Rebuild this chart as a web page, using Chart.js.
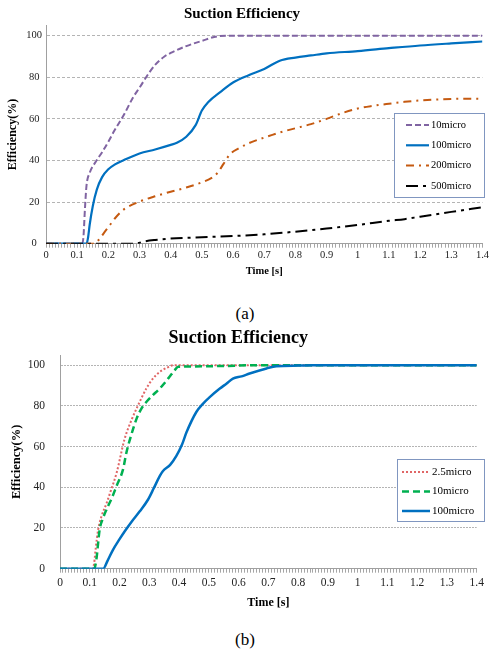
<!DOCTYPE html>
<html><head><meta charset="utf-8">
<script src="https://cdn.jsdelivr.net/npm/chart.js@4.4.0/dist/chart.umd.min.js"></script>
<style>
html,body{margin:0;padding:0;background:#fff;width:490px;height:651px;overflow:hidden;}
#ca{position:absolute;left:0;top:0;}
#cb{position:absolute;left:0;top:322px;}
.cap{position:absolute;left:0;width:490px;text-align:center;font-family:"Liberation Serif",serif;font-size:17px;line-height:20px;color:#000;}
</style></head><body>
<canvas id="ca" width="490" height="290"></canvas>
<div class="cap" style="top:304px">(a)</div>
<canvas id="cb" width="490" height="300"></canvas>
<div class="cap" style="top:630px">(b)</div>
<script>
// ---------- shared axis labels ----------
const xTickLabels = ['0','0.1','0.2','0.3','0.4','0.5','0.6','0.7','0.8','0.9','1','1.1','1.2','1.3','1.4'];
const yTickValues = [0, 20, 40, 60, 80, 100];

// ---------- chart (a) ----------
const a10t  = [0, 0.115, 0.12, 0.125, 0.13, 0.14, 0.16, 0.18, 0.2, 0.22, 0.25, 0.28, 0.3, 0.33, 0.35, 0.38, 0.4, 0.45, 0.5, 0.55, 0.6, 1.4];
const a10v  = [0, 0, 3, 17, 28, 34, 39.5, 44, 49, 54.5, 62, 70.5, 75, 82, 86, 90, 91.7, 95, 97.5, 99.7, 100, 100];
const a100t = [0, 0.13, 0.135, 0.14, 0.15, 0.163, 0.18, 0.2, 0.22, 0.25, 0.3, 0.35, 0.4, 0.42, 0.45, 0.48, 0.5, 0.52, 0.56, 0.6, 0.65, 0.7, 0.75, 0.8, 0.85, 0.9, 1.0, 1.1, 1.2, 1.3, 1.4];
const a100v = [0, 0, 3, 9, 18, 26, 32, 35.8, 38, 40.2, 43.4, 45.3, 47.5, 48.5, 51.4, 57, 64, 68, 73, 77.5, 81, 84, 88, 89.5, 90.5, 91.5, 92.6, 94, 95.3, 96.3, 97.2];
const a200t = [0, 0.155, 0.17, 0.19, 0.205, 0.22, 0.25, 0.3, 0.35, 0.4, 0.45, 0.5, 0.53, 0.55, 0.57, 0.59, 0.62, 0.65, 0.7, 0.75, 0.8, 0.85, 0.9, 0.95, 1.0, 1.05, 1.1, 1.15, 1.2, 1.25, 1.3, 1.35, 1.4];
const a200v = [0, 0, 2, 6, 9, 12, 16.5, 20.2, 22.8, 25, 27, 29.5, 31.5, 34, 38.5, 43, 46, 48.3, 51, 53.5, 55.5, 57.5, 60, 62.8, 65, 66.3, 67.3, 68.2, 68.9, 69.3, 69.6, 69.7, 69.6];
const a500t = [0, 0.28, 0.3, 0.32, 0.35, 0.4, 0.5, 0.6, 0.7, 0.8, 0.9, 1.0, 1.1, 1.15, 1.2, 1.3, 1.4];
const a500v = [0, 0, 0.5, 1.2, 1.8, 2.5, 3.1, 3.7, 4.5, 5.8, 7.3, 9, 11, 11.8, 13, 15.3, 17.5];

// ---------- chart (b) ----------
const b25t  = [0, 0.11, 0.115, 0.12, 0.128, 0.14, 0.156, 0.17, 0.19, 0.217, 0.24, 0.257, 0.29, 0.31, 0.335, 0.36, 0.38, 1.4];
const b25v  = [0, 0, 3, 10, 19, 26, 32, 38, 47, 63.7, 73, 78.6, 88.5, 93, 96.7, 98.8, 100, 100];
const b10t  = [0, 0.115, 0.122, 0.133, 0.145, 0.156, 0.175, 0.19, 0.212, 0.223, 0.24, 0.257, 0.275, 0.29, 0.31, 0.335, 0.35, 0.368, 0.385, 0.397, 0.45, 0.55, 0.65, 1.4];
const b10v  = [0, 0, 4.3, 19, 25, 29, 35, 40.6, 48.9, 57, 66, 73.6, 79, 81.9, 85, 88.5, 91, 94.3, 97.5, 99.2, 99.4, 99.6, 100, 100];
const b100t = [0, 0.145, 0.16, 0.178, 0.2, 0.217, 0.24, 0.268, 0.296, 0.315, 0.335, 0.346, 0.37, 0.391, 0.41, 0.425, 0.458, 0.48, 0.503, 0.537, 0.56, 0.581, 0.61, 0.637, 0.694, 0.727, 0.8, 0.85, 1.4];
const b100v = [0, 0, 4, 9.3, 14.5, 18.3, 23, 28.2, 34, 39.5, 45.5, 48, 51, 55.4, 61, 67, 77, 81, 84.3, 88.5, 91, 93.4, 94.5, 95.9, 98.4, 99.5, 99.8, 100, 100];

function pts(t, v) { return t.map((x, i) => ({ x: x, y: v[i] })); }

Chart.defaults.font.family = '"Liberation Serif", "Times New Roman", serif';
Chart.defaults.color = '#222';

const legendBox = {
  id: 'legendBox',
  afterDatasetsDraw(chart, args, o) {
    const ctx = chart.ctx;
    ctx.save();
    ctx.fillStyle = '#fff';
    ctx.fillRect(o.x, o.y, o.w, o.h);
    ctx.strokeStyle = o.border; ctx.lineWidth = 1;
    ctx.strokeRect(o.x + 0.5, o.y + 0.5, o.w, o.h);
    ctx.font = o.font; ctx.textBaseline = 'middle'; ctx.textAlign = 'left';
    chart.data.datasets.forEach((ds, i) => {
      const yy = o.y + o.first + i * o.step;
      ctx.strokeStyle = ds.borderColor; ctx.lineWidth = ds.borderWidth;
      ctx.setLineDash(ds.borderDash || []);
      ctx.beginPath(); ctx.moveTo(o.x + o.sx, yy); ctx.lineTo(o.x + o.sx + o.len, yy); ctx.stroke();
      ctx.setLineDash([]);
      ctx.fillStyle = '#000'; ctx.fillText(ds.label, o.x + o.tx, yy);
    });
    ctx.restore();
  }
};

function makeChart(id, datasets, s) {
  // later series are painted on top, as in the reference
  datasets.forEach((d, i) => { d.order = datasets.length - i; });
  return new Chart(document.getElementById(id), {
    type: 'line',
    data: { datasets: datasets },
    plugins: [legendBox],
    options: {
      responsive: false, animation: false, devicePixelRatio: 1,
      layout: { padding: { left: 0, right: s.padRight, top: 0, bottom: 0 } },
      elements: { point: { radius: 0 }, line: { cubicInterpolationMode: 'monotone', fill: false } },
      plugins: {
        legend: { display: false }, tooltip: { enabled: false },
        title: { display: true, text: 'Suction Efficiency', color: '#000',
                 font: { size: s.titleSize, weight: 'bold' }, padding: s.titlePad },
        legendBox: s.legend
      },
      scales: {
        x: {
          type: 'linear', min: 0, max: 1.4,
          afterBuildTicks: sc => { sc.ticks = Array.from({ length: 141 }, (_, i) => ({ value: i / 100 })); },
          afterFit: sc => { sc.height = s.xHeight; },
          ticks: { autoSkip: false, maxRotation: 0, padding: s.xTickPad, color: '#222',
                   font: { size: s.xTickSize },
                   callback: (v, i) => (i % 10 === 0 ? xTickLabels[i / 10] : '') },
          grid: { display: true, drawOnChartArea: false, drawTicks: true, tickLength: 4, color: '#a6a6a6' },
          border: { display: true, color: '#a0a0a0' },
          title: { display: true, text: 'Time [s]', color: '#000',
                   font: { size: s.xTitleSize, weight: 'bold' }, padding: { top: 0, bottom: s.xTitlePadB } }
        },
        y: {
          min: 0, max: 105,
          afterBuildTicks: sc => { sc.ticks = yTickValues.map(v => ({ value: v })); },
          afterFit: sc => { sc.width = s.yWidth; },
          ticks: { padding: s.yTickPad, crossAlign: s.yAlign, color: '#222', font: { size: s.yTickSize } },
          grid: { display: true, drawTicks: false, color: '#b4b4b4' },
          border: { display: true, color: '#a0a0a0', dash: s.gridDash },
          title: { display: true, text: 'Efficiency(%)', color: '#000',
                   font: { size: s.yTitleSize, weight: 'bold' }, padding: { top: s.yTitlePadT, bottom: 0 } }
        }
      }
    }
  });
}

makeChart('ca', [
  { label: '10micro',  data: pts(a10t, a10v),   borderColor: '#8064a2', borderWidth: 2,   borderDash: [6, 3] },
  { label: '100micro', data: pts(a100t, a100v), borderColor: '#0070c0', borderWidth: 2.2 },
  { label: '200micro', data: pts(a200t, a200v), borderColor: '#c55a11', borderWidth: 2,   borderDash: [8, 5, 2, 5] },
  { label: '500micro', data: pts(a500t, a500v), borderColor: '#000000', borderWidth: 2,   borderDash: [12, 5, 3, 5] }
], {
  padRight: 6, titleSize: 15, titlePad: { top: 5, bottom: 2.3 },
  xHeight: 46.3, xTickPad: 1, xTickSize: 10.5, xTitleSize: 10.5, xTitlePadB: 12.7,
  yWidth: 46, yTickPad: 4, yAlign: 'center', yTickSize: 10.5, yTitleSize: 12, yTitlePadT: 5.8,
  gridDash: [3, 2],
  legend: { x: 394, y: 113, w: 90, h: 84, first: 12, step: 20.3, sx: 12, len: 23, tx: 37,
            border: '#8096c0', font: '10.5px "Liberation Serif", serif' }
});

makeChart('cb', [
  { label: '2.5micro', data: pts(b25t, b25v),   borderColor: '#e06666', borderWidth: 2,   borderDash: [2, 2] },
  { label: '10micro',  data: pts(b10t, b10v),   borderColor: '#00b050', borderWidth: 2.5, borderDash: [7, 4] },
  { label: '100micro', data: pts(b100t, b100v), borderColor: '#0070c0', borderWidth: 2.5 }
], {
  padRight: 13.3, titleSize: 18, titlePad: { top: 5.2, bottom: 6.2 },
  xHeight: 53.3, xTickPad: 3.7, xTickSize: 11.5, xTitleSize: 12, xTitlePadB: 12.1,
  yWidth: 60, yTickPad: 15, yAlign: 'near', yTickSize: 11.5, yTitleSize: 12.5, yTitlePadT: 9.5,
  gridDash: [2, 1],
  legend: { x: 397, y: 459 - 322, w: 87, h: 62, first: 13, step: 19.5, sx: 5, len: 28, tx: 35,
            border: '#8096c0', font: '11px "Liberation Serif", serif' }
});
</script>
</body></html>
